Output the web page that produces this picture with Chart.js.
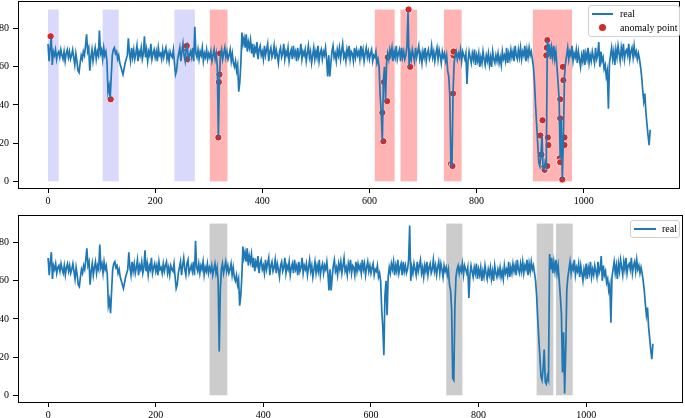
<!DOCTYPE html>
<html>
<head>
<meta charset="utf-8">
<script src="https://cdn.jsdelivr.net/npm/chart.js@4.4.1/dist/chart.umd.min.js"></script>
<style>
  html, body { margin: 0; padding: 0; background: #fff; }
  #page { position: relative; width: 685px; height: 418px; overflow: hidden; background: #fff; }
  .panel { position: absolute; left: -40px; width: 725px; height: 215px; }
  .legend { position: absolute; background: rgba(255,255,255,0.85); border: 1px solid #d0d0d0; border-radius: 3px;
            font-family: 'Liberation Serif', 'Times New Roman', serif; font-size: 10px; color: #000; }
  .legend .row { position: absolute; height: 12px; line-height: 12px; white-space: nowrap; }
  .legend .ln { position: absolute; height: 2px; background: #1f77b4; }
  .legend .dot { position: absolute; width: 7px; height: 7px; border-radius: 50%; background: #d62728; box-shadow: 0 0 0 0.7px #fff; }
</style>
</head>
<body>
<div id="page">
  <div class="panel" style="top:-9px"><canvas id="topChart" width="725" height="215"></canvas></div>
  <div class="panel" style="top:205px"><canvas id="bottomChart" width="725" height="215"></canvas></div>

  <div class="legend" style="left:588px; top:5px; width:90px; height:30px;">
    <div class="ln" style="left:3px; top:7px; width:21px;"></div>
    <div class="row" style="left:31px; top:2px;">real</div>
    <div class="dot" style="left:10px; top:18px;"></div>
    <div class="row" style="left:31px; top:16px;">anomaly point</div>
  </div>
  <div class="legend" style="left:630px; top:220px; width:48px; height:16px;">
    <div class="ln" style="left:3px; top:7px; width:22px;"></div>
    <div class="row" style="left:31px; top:2px;">real</div>
  </div>
</div>

<script>
const STEP = 2;
const realValues = [
  72,63,70,75,61,68,66,69,64,67,
  68,65,69,66,64,68,63,67,69,65,
  68,64,66,69,65,61,67,63,58,57,
  62,66,64,68,66,71,77,68,70,58,
  65,69,63,67,70,64,68,66,79,67,
  69,64,70,66,68,63,47,50,43,55,
  66,69,70,67,68,64,66,62,60,58,
  56,59,62,64,66,75,67,63,70,65,
  69,64,67,71,63,68,66,70,64,67,
  76,65,69,63,68,66,72,64,67,69,
  65,68,63,70,66,67,64,69,65,68,
  70,64,67,63,68,66,65,69,62,56,
  58,64,67,70,63,68,72,66,63,69,
  71,64,66,68,65,70,63,81,67,65,
  69,64,68,66,70,63,67,65,69,64,
  67,65,68,63,66,69,64,67,60,23,
  55,66,69,64,67,70,65,68,64,66,
  69,63,67,62,60,63,58,61,47,52,
  62,78,72,75,70,77,68,73,70,74,
  67,72,65,70,68,73,64,69,71,66,
  68,64,71,66,69,72,63,68,70,65,
  67,71,64,69,66,62,68,70,65,67,
  72,64,68,66,70,63,67,69,64,71,
  66,68,63,70,65,67,72,64,68,66,
  69,63,67,71,65,68,62,66,70,64,
  68,65,71,63,67,69,64,68,66,70,
  64,55,66,55,62,68,71,65,67,63,
  69,66,70,64,68,72,65,67,63,69,
  66,71,64,68,67,63,70,65,69,66,
  68,64,71,66,69,63,67,70,65,68,
  64,67,69,63,66,65,68,62,64,60,
  45,36,21,52,60,42,62,67,64,69,
  66,70,63,68,65,71,64,67,69,63,
  70,65,68,64,66,71,89,60,67,64,
  69,66,63,70,65,68,71,64,67,62,
  68,65,70,63,67,69,64,66,71,65,
  68,63,67,70,64,69,66,62,68,65,
  67,63,66,58,55,45,9,8,46,62,
  66,68,64,67,65,69,63,68,66,64,
  67,51,63,68,65,62,67,64,69,61,
  66,63,67,60,65,62,68,64,61,66,
  63,67,61,65,60,68,64,62,66,63,
  67,62,65,61,68,64,66,63,70,62,
  67,64,69,65,68,63,71,66,64,69,
  65,70,64,68,66,71,63,69,65,70,
  66,68,64,60,52,40,30,20,10,8,
  14,24,7,6,10,8,74,66,72,64,
  70,65,71,64,68,60,52,43,12,33,
  1,23,55,62,66,70,64,68,66,71,
  63,67,65,69,62,68,64,60,66,63,
  69,61,67,64,70,62,66,63,68,65,
  62,70,64,66,73,60,68,63,65,59,
  61,55,58,38,62,66,70,64,68,61,
  69,65,71,67,63,70,66,72,64,68,
  69,66,72,64,68,70,65,71,66,68,
  64,67,64,60,55,48,42,46,36,30,
  24,19,27
];

const anomalyX = [5,117,255,259,260,318,319,320,321,624,626,627,633,634,673,676,
  752,755,756,757,757,919,921,923,925,927,930,931,932,932,933,934,955,956,956,956,960,961,962,964,964];
const anomalyY = [76,43,70,71,64,23,52,56,67,36,21,52,42,65,90,60,
  9,8,46,66,68,24,14,32,7,6,66,70,74,8,23,19,12,10,33,43,1,60,53,23,19];

// shaded windows [start, end], drawn from 0 to 90
const blueSpans = [[0,20],[102,132],[236,274]];
const redSpans = [[302,335],[610,647],[658,689],[739,772],[905,978]];
const graySpans = [[300,333],[740,770],[908,939],[944,975]];
const SPAN_LOW = 0, SPAN_HIGH = 90;

const xTickValues = [0, 200, 400, 600, 800, 1000];
const yTickValues = [0, 20, 40, 60, 80];

const realPoints = realValues.map((v, i) => ({ x: i * STEP, y: v }));
const anomalyPoints = anomalyX.map((x, i) => ({ x: x, y: anomalyY[i] }));

const tickFont = { family: "'Liberation Serif', 'Times New Roman', serif", size: 10 };

const spansPlugin = {
  id: 'spans',
  beforeDatasetsDraw(chart, args, opts) {
    const ctx = chart.ctx, xs = chart.scales.x, ys = chart.scales.y;
    ctx.save();
    (opts.groups || []).forEach(g => {
      ctx.fillStyle = g.color;
      g.spans.forEach(s => {
        const x0 = xs.getPixelForValue(s[0]), x1 = xs.getPixelForValue(s[1]);
        const y0 = ys.getPixelForValue(SPAN_HIGH), y1 = ys.getPixelForValue(SPAN_LOW);
        ctx.fillRect(x0, y0, x1 - x0, y1 - y0);
      });
    });
    ctx.restore();
  }
};

const framePlugin = {
  id: 'frame',
  afterDraw(chart) {
    const a = chart.chartArea, ctx = chart.ctx;
    ctx.save();
    ctx.strokeStyle = '#000';
    ctx.lineWidth = 1;
    ctx.strokeRect(Math.round(a.left) + 0.5, Math.round(a.top) + 0.5,
                   Math.round(a.right - a.left) - 1, Math.round(a.bottom - a.top));
    ctx.restore();
  }
};

function makeChart(id, datasets, spanGroups) {
  return new Chart(document.getElementById(id), {
    type: 'line',
    data: { datasets: datasets },
    options: {
      responsive: false,
      animation: false,
      events: [],
      layout: { padding: { top: 10, right: 2, left: 0, bottom: 0 } },
      plugins: {
        legend: { display: false },
        tooltip: { enabled: false },
        spans: { groups: spanGroups }
      },
      scales: {
        x: {
          type: 'linear',
          min: -56,
          max: 1180,
          afterBuildTicks: s => { s.ticks = xTickValues.map(v => ({ value: v })); },
          afterFit: s => { s.height = 18; },
          border: { display: false },
          grid: { drawOnChartArea: false, drawTicks: true, tickLength: 5, color: '#000' },
          ticks: { maxRotation: 0, autoSkip: false, padding: 2, color: '#000', font: tickFont,
                   callback: v => String(v) }
        },
        y: {
          min: -3.5,
          max: 94.5,
          afterBuildTicks: s => { s.ticks = yTickValues.map(v => ({ value: v })); },
          afterFit: s => { s.width = 58; },
          border: { display: false },
          grid: { drawOnChartArea: false, drawTicks: true, tickLength: 5, color: '#000' },
          ticks: { padding: 4, color: '#000', font: tickFont, callback: v => String(v) }
        }
      }
    },
    plugins: [spansPlugin, framePlugin]
  });
}

const realDataset = () => ({
  label: 'real',
  data: realPoints,
  borderColor: '#1f77b4',
  borderWidth: 1.7,
  pointRadius: 0,
  tension: 0,
  order: 0
});

makeChart('topChart', [
  realDataset(),
  {
    type: 'scatter',
    label: 'anomaly point',
    data: anomalyPoints,
    showLine: false,
    pointRadius: 3.6,
    backgroundColor: '#d62728',
    borderColor: '#ffffff',
    borderWidth: 0.8,
    order: 1
  }
], [
  { color: '#d9d9fb', spans: blueSpans },
  { color: '#ffb3b3', spans: redSpans }
]);

makeChart('bottomChart', [realDataset()], [
  { color: '#cccccc', spans: graySpans }
]);
</script>
</body>
</html>
